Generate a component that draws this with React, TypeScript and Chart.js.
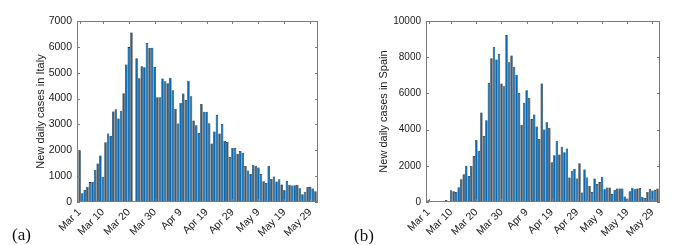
import React, { useEffect, useRef } from 'react';
import { Chart, registerables } from 'chart.js';

Chart.register(...registerables);

// One bar per day, Mar 1 .. May 31 (index 0 = Mar 1)
const italyCases = [
  2000, 340, 470, 590, 770, 780, 1250, 1490, 1800, 980, 2310, 2650, 2550, 3500, 3590, 3230, 3530, 4210, 5320, 5990, 6560,
  0,
  5560, 4790, 5250, 5210, 6150, 5960, 5970, 5220, 4050, 4050, 4780, 4670, 4590, 4810, 4320, 3600, 3040, 3840, 4200, 3950,
  4690, 4090, 3150, 2970, 2670, 3790, 3490, 3490, 3050, 2260, 2730, 3370, 2650, 3020, 2360, 2320, 1740, 2090, 2090, 1870,
  1970, 1900, 1390, 1220, 1080, 1440, 1400, 1330, 1080, 800, 740, 1400, 890, 990, 790, 880, 680, 450, 810, 670,
  640, 650, 670, 530, 300, 400, 580, 590, 520, 420,
];

const spainCases = [
  90, 40, 40, 50, 60, 50, 70, 110, 30,
  650, 600, 550, 820, 1260, 1540, 2000, 1440, 1990, 2540, 3430, 2830, 4950, 3650, 4520, 6580, 7940, 8580, 7870, 8190,
  6550, 6400, 9220, 7720, 8100, 7470, 7030, 6020, 4270, 5480, 6180, 5760, 4580, 4830, 4170, 3480, 6550, 4010, 4400, 4100,
  2200, 2580, 3350, 2630, 3050, 2750, 2950, 1350, 1730, 1830, 1300, 2140, 520, 1800, 1350, 880, 550, 1300, 1000, 1100,
  1400, 700, 800, 800, 450, 680, 740, 740, 740, 300, 200, 590, 790, 700, 750, 770, 280, 220, 550, 720, 630, 660, 740,
];

const xTickIndex = [0, 9, 19, 29, 39, 49, 59, 69, 79, 89];
const xTickLabels = ['Mar 1', 'Mar 10', 'Mar 20', 'Mar 30', 'Apr 9', 'Apr 19', 'Apr 29', 'May 9', 'May 19', 'May 29'];

const italyYMax = 7000;
const italyYStep = 1000;
const spainYMax = 10000;
const spainYStep = 2000;

const BAR_FILL = '#0a69b0';
const AXIS_GRAY = '#7a7a7a';
const TEXT = '#1a1a1a';
const SANS = '"Liberation Sans", Arial, sans-serif';

type PanelProps = {
  left: number;
  width: number;
  plotLeft: number;
  plotRight: number;
  values: number[];
  yMax: number;
  yStep: number;
  yLabel: string;
  yLabelX: number;
  yTickFont: number;
};

const H = 245;
const PLOT_TOP = 21;
const PLOT_BOTTOM = 202;

function Panel(p: PanelProps) {
  const ref = useRef<HTMLCanvasElement | null>(null);
  useEffect(() => {
    if (!ref.current) return;
    const framePlugin = {
      id: 'matlabFrame',
      afterDraw(chart: any) {
        const { ctx, chartArea: a, scales } = chart;
        ctx.save();
        ctx.strokeStyle = AXIS_GRAY;
        ctx.lineWidth = 1;
        ctx.strokeRect(a.left + 0.5, a.top + 0.5, a.right - a.left - 1, a.bottom - a.top - 1);
        const tl = 3;
        ctx.beginPath();
        scales.y.ticks.forEach((t: any) => {
          const py = Math.round(scales.y.getPixelForValue(t.value)) + 0.5;
          ctx.moveTo(a.left, py);
          ctx.lineTo(a.left + tl, py);
          ctx.moveTo(a.right, py);
          ctx.lineTo(a.right - tl, py);
        });
        scales.x.ticks.forEach((t: any) => {
          const px = Math.round(scales.x.getPixelForValue(t.value)) + 0.5;
          ctx.moveTo(px, a.bottom);
          ctx.lineTo(px, a.bottom - tl);
          ctx.moveTo(px, a.top);
          ctx.lineTo(px, a.top + tl);
        });
        ctx.stroke();
        ctx.translate(p.yLabelX, (a.top + a.bottom) / 2);
        ctx.rotate(-Math.PI / 2);
        ctx.textAlign = 'center';
        ctx.textBaseline = 'middle';
        ctx.font = `11px ${SANS}`;
        ctx.fillStyle = TEXT;
        ctx.fillText(p.yLabel, 0, 0);
        ctx.restore();
      },
    };
    const chart = new Chart(ref.current, {
      type: 'bar',
      data: {
        datasets: [
          {
            data: p.values.map((v, i) => ({ x: i, y: v })),
            backgroundColor: BAR_FILL,
            borderColor: '#000000',
            borderWidth: 0.55,
            borderSkipped: false,
            barPercentage: 0.97,
            categoryPercentage: 1,
          },
        ],
      },
      options: {
        animation: false,
        responsive: false,
        devicePixelRatio: 1,
        layout: { padding: { top: PLOT_TOP, right: p.width - p.plotRight, left: 0, bottom: 0 } },
        plugins: { legend: { display: false }, tooltip: { enabled: false } },
        scales: {
          x: {
            type: 'linear',
            min: -1,
            max: 92,
            offset: false,
            grid: { display: false, drawTicks: false, offset: false },
            border: { display: false },
            afterBuildTicks: (scale: any) => {
              scale.ticks = xTickIndex.map((v) => ({ value: v }));
            },
            afterFit: (scale: any) => {
              scale.height = H - PLOT_BOTTOM;
            },
            ticks: {
              autoSkip: false,
              minRotation: 45,
              maxRotation: 45,
              padding: 4,
              color: TEXT,
              font: { family: SANS, size: 10.5 },
              callback: (value: any) => {
                const i = xTickIndex.indexOf(Number(value));
                return i >= 0 ? xTickLabels[i] : '';
              },
            },
          },
          y: {
            type: 'linear',
            min: 0,
            max: p.yMax,
            grid: { display: false, drawTicks: false },
            border: { display: false },
            afterFit: (scale: any) => {
              scale.width = p.plotLeft;
            },
            ticks: {
              stepSize: p.yStep,
              padding: 5,
              color: TEXT,
              font: { family: SANS, size: p.yTickFont },
              callback: (v: any) => String(v),
            },
          },
        },
      },
      plugins: [framePlugin],
    } as any);
    return () => chart.destroy();
  }, []);
  return (
    <canvas
      ref={ref}
      width={p.width}
      height={H}
      style={{ position: 'absolute', left: p.left, top: 0, width: p.width, height: H }}
    />
  );
}

export default function App() {
  const labelStyle: React.CSSProperties = {
    position: 'absolute',
    fontFamily: '"Liberation Serif", "Times New Roman", serif',
    fontSize: 17,
    lineHeight: '17px',
    color: '#111',
  };
  return (
    <div style={{ position: 'fixed', left: 0, top: 0, width: 694, height: H, background: '#fff', overflow: 'hidden' }}>
      <Panel
        left={0}
        width={345}
        plotLeft={77}
        plotRight={318}
        values={italyCases}
        yMax={italyYMax}
        yStep={italyYStep}
        yLabel="New daily cases in Italy"
        yLabelX={41}
        yTickFont={10.5}
      />
      <Panel
        left={347}
        width={347}
        plotLeft={79}
        plotRight={313}
        values={spainCases}
        yMax={spainYMax}
        yStep={spainYStep}
        yLabel="New daily cases in Spain"
        yLabelX={37}
        yTickFont={10}
      />
      <div style={{ ...labelStyle, left: 12, top: 226 }}>(a)</div>
      <div style={{ ...labelStyle, left: 354, top: 227 }}>(b)</div>
    </div>
  );
}
